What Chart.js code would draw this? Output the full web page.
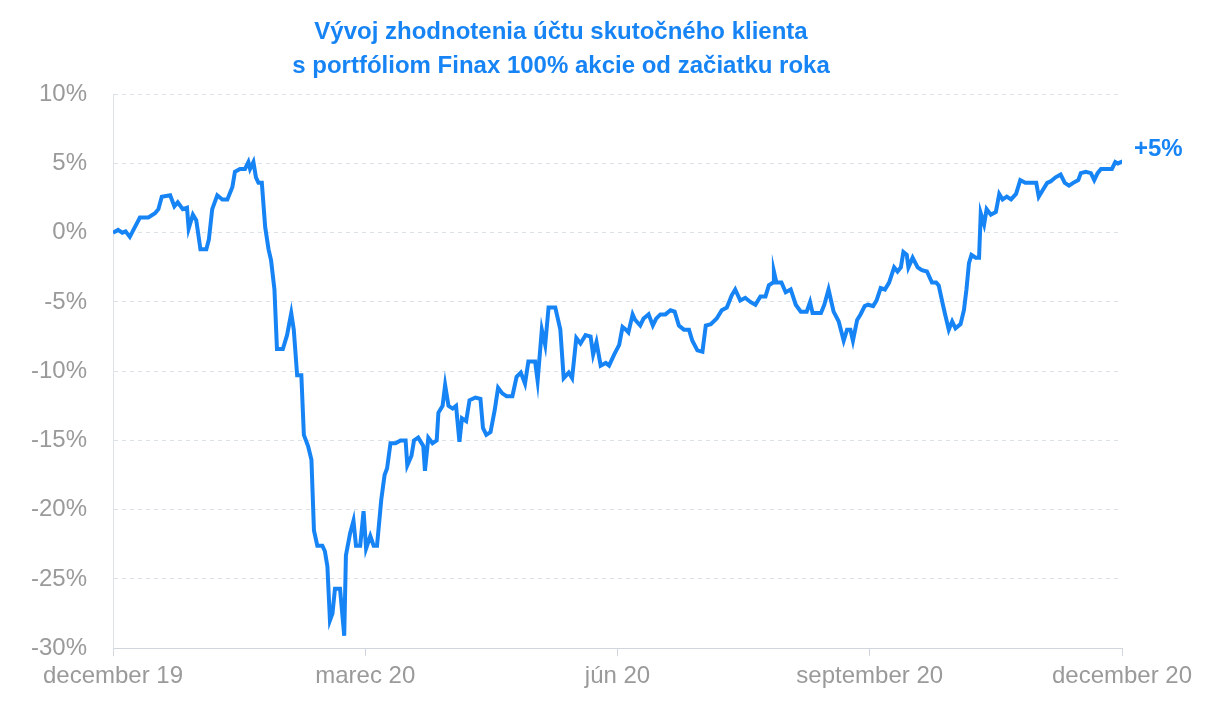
<!DOCTYPE html>
<html>
<head>
<meta charset="utf-8">
<script src="https://cdn.jsdelivr.net/npm/chart.js@4/dist/chart.umd.min.js"></script>
<style>
  html, body { margin: 0; padding: 0; background: #fff; }
  #wrap { width: 1218px; height: 714px; }
</style>
</head>
<body>
<div id="wrap"><canvas id="chart"></canvas></div>
<script>
// months since start of December 2019
const months = [0,.06,.11,.15,.20,.26,.32,.42,.50,.54,.58,.68,.73,.77,.83,.88,.90,.95,.99,1.04,1.11,1.14,1.18,1.24,1.30,1.36,1.42,1.45,1.51,1.57,1.61,1.63,1.67,1.70,1.73,1.77,1.81,1.85,1.88,1.92,1.95,2.02,2.07,2.12,2.15,2.19,2.24,2.27,2.32,2.36,2.39,2.43,2.49,2.52,2.55,2.58,2.61,2.64,2.70,2.75,2.77,2.82,2.86,2.89,2.94,2.98,3.01,3.06,3.10,3.14,3.19,3.23,3.26,3.30,3.36,3.42,3.48,3.50,3.55,3.58,3.63,3.69,3.71,3.75,3.80,3.85,3.87,3.92,3.95,3.99,4.04,4.08,4.12,4.15,4.20,4.24,4.31,4.37,4.40,4.44,4.49,4.54,4.58,4.63,4.68,4.75,4.80,4.85,4.90,4.94,5.02,5.05,5.10,5.14,5.18,5.26,5.32,5.36,5.42,5.46,5.51,5.56,5.62,5.68,5.71,5.75,5.80,5.86,5.90,5.96,6.02,6.06,6.10,6.13,6.18,6.21,6.27,6.31,6.37,6.42,6.46,6.51,6.57,6.63,6.68,6.73,6.79,6.85,6.89,6.95,7.01,7.05,7.11,7.18,7.24,7.30,7.36,7.40,7.46,7.52,7.58,7.64,7.70,7.76,7.80,7.85,7.86,7.89,7.95,8.00,8.06,8.12,8.18,8.25,8.29,8.32,8.37,8.42,8.46,8.51,8.57,8.63,8.69,8.73,8.77,8.80,8.85,8.89,8.94,8.98,9.04,9.08,9.13,9.18,9.23,9.29,9.33,9.37,9.40,9.44,9.46,9.51,9.57,9.62,9.68,9.74,9.79,9.82,9.87,9.90,9.94,9.98,10.02,10.08,10.12,10.15,10.18,10.21,10.26,10.30,10.32,10.36,10.39,10.44,10.50,10.54,10.58,10.63,10.68,10.74,10.79,10.85,10.92,10.98,11.01,11.06,11.11,11.15,11.21,11.27,11.32,11.37,11.42,11.48,11.51,11.57,11.63,11.67,11.71,11.75,11.82,11.88,11.92,11.95,11.99,12.0];
const returns = [0,.2,0,.1,-.3,.4,1.1,1.1,1.4,1.7,2.6,2.7,1.9,2.2,1.7,1.8,.3,1.3,.9,-1.2,-1.2,-.5,1.7,2.7,2.4,2.4,3.3,4.4,4.6,4.6,5.1,4.6,5.1,4.0,3.6,3.6,.4,-1.2,-2.0,-4.1,-8.4,-8.4,-7.4,-5.8,-7.0,-10.3,-10.3,-14.6,-15.4,-16.4,-21.5,-22.6,-22.6,-23.0,-24.1,-28.0,-27.5,-25.7,-25.7,-29.1,-23.3,-21.7,-20.8,-22.6,-22.6,-20.1,-22.8,-21.9,-22.6,-22.6,-19.3,-17.5,-17.0,-15.2,-15.2,-15.0,-15.0,-16.8,-16.1,-15.0,-14.8,-15.4,-17.2,-14.8,-15.2,-15.0,-13.0,-12.5,-11.0,-12.5,-12.7,-12.5,-15.1,-13.4,-13.6,-12.1,-11.9,-12.0,-14.1,-14.6,-14.4,-12.8,-11.2,-11.6,-11.8,-11.8,-10.4,-10.1,-10.9,-9.3,-9.3,-10.7,-7.0,-8.1,-5.4,-5.4,-7.0,-10.5,-10.1,-10.5,-7.6,-8.0,-7.4,-7.5,-8.8,-7.9,-9.6,-9.4,-9.6,-8.8,-8.1,-6.8,-7.0,-7.2,-5.9,-6.3,-6.7,-6.2,-5.9,-6.7,-6.2,-5.9,-5.9,-5.6,-5.7,-6.7,-7.0,-7.0,-7.8,-8.5,-8.6,-6.7,-6.6,-6.2,-5.6,-5.4,-4.5,-4.1,-4.9,-4.7,-5.0,-5.2,-4.6,-4.6,-3.8,-3.6,-2.8,-3.6,-3.6,-4.3,-4.1,-5.2,-5.7,-5.7,-5.0,-5.8,-5.8,-5.8,-5.2,-4.1,-5.7,-6.4,-7.8,-7.0,-7.0,-7.8,-6.3,-5.9,-5.3,-5.2,-5.3,-4.9,-4.0,-4.1,-3.6,-2.5,-2.8,-2.5,-1.4,-1.6,-2.5,-1.8,-2.5,-2.7,-2.8,-3.6,-3.6,-3.8,-5.2,-6.0,-7.0,-6.4,-6.9,-6.6,-5.6,-4.1,-2.2,-1.6,-1.8,-1.8,1.4,.6,1.7,1.3,1.5,2.8,2.4,2.6,2.4,2.8,3.8,3.6,3.6,3.6,2.6,3.1,3.6,3.7,4.0,4.2,3.6,3.4,3.6,3.8,4.3,4.4,4.3,3.8,4.3,4.6,4.6,4.6,5.1,5.0,5.1,5.0];
const xTickLabels = ['december 19', 'marec 20', 'jún 20', 'september 20', 'december 20'];
const endLabel = '+5%';

const blue = '#1784f5';
const grey = '#9a9a9a';

const endLabelPlugin = {
  id: 'endLabel',
  afterDatasetsDraw(chart) {
    const pts = chart.getDatasetMeta(0).data;
    const p = pts[pts.length - 1];
    const ctx = chart.ctx;
    ctx.save();
    ctx.fillStyle = blue;
    ctx.font = 'bold 24px "Liberation Sans", Arial, sans-serif';
    ctx.textBaseline = 'middle';
    ctx.fillText(endLabel, p.x + 12, p.y - 14);
    ctx.restore();
  }
};

new Chart(document.getElementById('chart'), {
  type: 'line',
  data: {
    datasets: [{
      data: months.map((m, i) => ({ x: m, y: returns[i] })),
      borderColor: blue,
      borderWidth: 4,
      pointRadius: 0,
      tension: 0,
      fill: false
    }]
  },
  options: {
    responsive: true,
    maintainAspectRatio: false,
    animation: false,
    layout: { padding: { left: 0, right: 96, top: 0, bottom: 17 } },
    plugins: {
      legend: { display: false },
      tooltip: { enabled: false },
      title: {
        display: true,
        text: ['Vývoj zhodnotenia účtu skutočného klienta', 's portfóliom Finax 100% akcie od začiatku roka'],
        color: blue,
        font: { family: '"Liberation Sans", Arial, sans-serif', size: 24, weight: 'bold', lineHeight: 1.4 },
        padding: { top: 16, bottom: 11 }
      }
    },
    scales: {
      x: {
        type: 'linear',
        min: 0, max: 12,
        ticks: {
          stepSize: 3,
          color: grey,
          font: { family: '"Liberation Sans", Arial, sans-serif', size: 24 },
          padding: 6,
          maxRotation: 0,
          callback: v => xTickLabels[v / 3]
        },
        grid: { drawOnChartArea: false, drawTicks: true, tickLength: 8, color: '#d0d5de' },
        border: { color: '#d0d5de' }
      },
      y: {
        min: -30, max: 10,
        afterFit: s => { s.width = 113; },
        ticks: {
          stepSize: 5,
          color: grey,
          font: { family: '"Liberation Sans", Arial, sans-serif', size: 24 },
          padding: 26,
          callback: v => v + '%'
        },
        grid: { color: '#dde1e8', drawTicks: false, lineWidth: 1 },
        border: { display: true, color: '#dde1e8', dash: [4, 4] }
      }
    }
  },
  plugins: [endLabelPlugin]
});
</script>
</body>
</html>
